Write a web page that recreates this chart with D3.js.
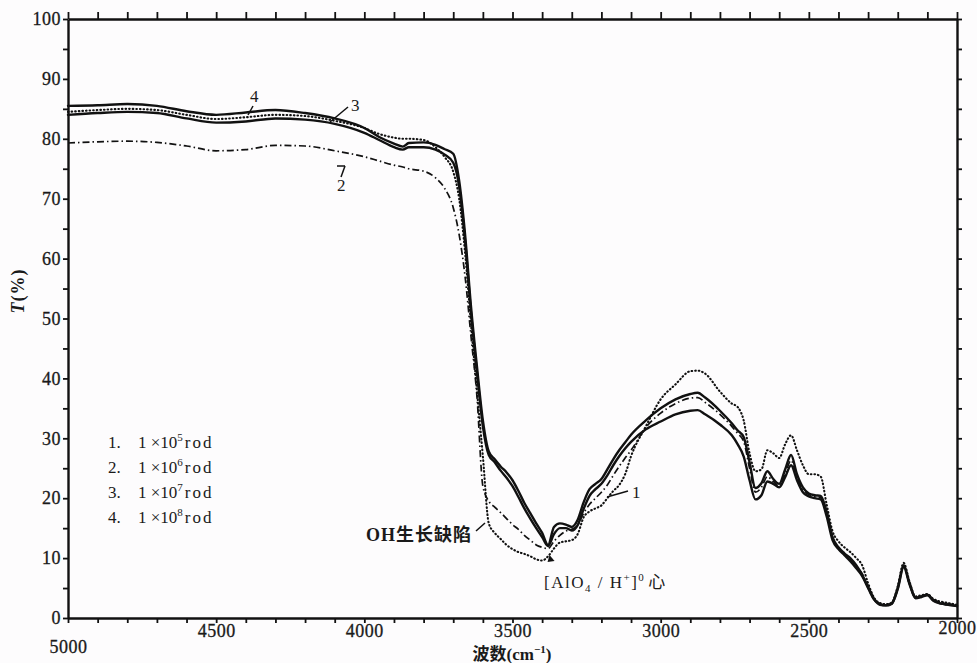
<!DOCTYPE html>
<html>
<head>
<meta charset="utf-8">
<script src="https://cdn.jsdelivr.net/npm/d3@7.9.0/dist/d3.min.js"></script>
<style>
  body { margin: 0; background: #fdfcfd; }
  svg { display: block; }
  text { font-family: "Liberation Serif", "Times New Roman", "Noto Sans CJK SC", serif; fill: #1a1a1a; }
</style>
</head>
<body>
<div id="chart"></div>
<script>
// wavenumber grid (cm^-1), shared by all four spectra
const wavenumbers = [5000, 4900, 4800, 4700, 4600, 4500, 4400, 4300, 4200, 4100, 4000, 3950, 3900, 3870, 3850, 3800, 3760, 3730, 3700, 3680, 3660, 3640, 3620, 3600, 3580, 3560, 3540, 3520, 3500, 3480, 3460, 3440, 3420, 3400, 3380, 3360, 3340, 3320, 3300, 3280, 3260, 3240, 3220, 3200, 3180, 3160, 3140, 3120, 3100, 3050, 3000, 2950, 2900, 2875, 2850, 2800, 2760, 2740, 2720, 2700, 2680, 2660, 2640, 2620, 2600, 2580, 2560, 2540, 2520, 2500, 2480, 2460, 2440, 2420, 2400, 2380, 2360, 2340, 2320, 2300, 2280, 2260, 2240, 2220, 2200, 2180, 2160, 2140, 2120, 2100, 2080, 2060, 2040, 2020, 2000];

// T(%) for each dose
const dose1e5 = [84.5, 84.8, 85.0, 84.8, 84.0, 83.3, 83.6, 84.0, 83.8, 83.0, 81.8, 80.8, 80.2, 80.0, 80.0, 79.8, 78.6, 77.0, 74.5, 70, 61, 49, 38, 27, 15.8, 14.2, 13.2, 12.2, 11.5, 11.0, 10.7, 10.3, 9.8, 9.6, 10.3, 11.6, 12.6, 12.8, 13.0, 14.0, 16.8, 17.8, 18.3, 18.8, 20.0, 21.2, 22.2, 24.0, 27.0, 32.0, 36.5, 39.0, 41.2, 41.3, 40.8, 37.8, 35.8, 35.2, 33.0, 27.5, 24.5, 24.8, 28.0, 27.5, 26.7, 29.0, 30.5, 28.0, 25.5, 24.0, 24.0, 23.6, 19.0, 14.5, 12.8, 11.8, 11.0, 10.0, 8.8, 5.8, 3.4, 2.5, 2.3, 2.6, 5.3, 9.2, 6.0, 3.6, 3.8, 4.0, 3.2, 2.8, 2.6, 2.4, 2.2];
const dose1e6 = [79.3, 79.5, 79.6, 79.4, 78.8, 78.0, 78.2, 78.9, 78.8, 78.0, 77.0, 76.3, 75.6, 75.3, 75.0, 74.6, 73.5, 71.8, 68.5, 64, 57, 47, 37, 22, 19.5, 18.5, 17.6, 16.6, 15.6, 14.8, 13.8, 13.0, 12.2, 11.8, 11.6, 12.8, 13.8, 14.5, 14.8, 15.5, 17.5, 19.0, 20.0, 21.0, 22.2, 23.8, 25.3, 26.7, 28.0, 31.8, 34.2, 35.8, 36.7, 36.8, 36.0, 34.0, 32.0, 30.8, 29.5, 25.0, 21.0, 21.8, 23.6, 22.8, 22.0, 24.0, 26.3, 23.5, 21.5, 20.6, 20.3, 20.1, 17.4, 13.3, 11.6, 10.6, 9.8, 8.6, 7.4, 5.0, 3.1, 2.3, 2.2, 2.6, 5.0, 8.6, 5.6, 3.4, 3.6, 3.9, 3.1, 2.7, 2.5, 2.3, 2.1];
const dose1e7 = [84.0, 84.3, 84.5, 84.3, 83.4, 82.7, 82.9, 83.4, 83.2, 82.5, 81.0, 79.8, 78.6, 78.2, 78.6, 78.6, 78.2, 77.4, 76.0, 72, 63, 51, 41, 32, 27.2, 26.0, 24.6, 23.4, 22.0, 20.2, 18.3, 16.6, 15.0, 13.5, 12.0, 14.0, 15.0, 15.0, 14.6, 15.5, 18.2, 20.4, 21.5, 22.4, 23.8, 25.5, 27.0, 28.3, 29.4, 31.5, 32.8, 34.0, 34.6, 34.7, 34.0, 32.3, 30.5, 29.0, 27.0, 23.0, 19.8, 20.5, 22.8, 22.4, 21.8, 23.5, 25.5, 23.0, 21.0, 20.3, 20.0, 19.8, 17.0, 13.0, 11.5, 10.5, 9.5, 8.3, 7.0, 5.0, 3.1, 2.2, 2.1, 2.4, 4.8, 8.5, 5.6, 3.3, 3.5, 3.8, 2.9, 2.5, 2.3, 2.1, 2.0];
const dose1e8 = [85.5, 85.6, 85.8, 85.5, 84.6, 84.0, 84.4, 84.8, 84.3, 83.4, 81.8, 80.3, 79.2, 78.7, 79.3, 79.4, 79.0, 78.3, 77.5, 73, 64, 52, 42, 33, 27.8, 26.5, 25.3, 24.3, 23.0, 21.2, 19.2, 17.5, 15.8, 14.2, 12.2, 15.2, 15.8, 15.6, 15.2, 16.4, 19.3, 21.5, 22.4, 23.2, 24.8, 26.5, 28.0, 29.3, 30.6, 33.0, 35.0, 36.5, 37.4, 37.6, 36.8, 34.6, 32.5, 31.3, 30.2, 26.0, 21.7, 22.5, 24.5, 23.2, 22.4, 24.8, 27.2, 24.0, 21.8, 20.8, 20.5, 20.4, 17.8, 13.5, 11.8, 10.8, 10.0, 8.8, 7.2, 5.2, 3.2, 2.3, 2.1, 2.4, 5.0, 8.8, 5.8, 3.4, 3.6, 3.9, 3.0, 2.5, 2.3, 2.2, 2.0];

const legendExponents = [5, 6, 7, 8];
const xTickLabels = [5000, 4500, 4000, 3500, 3000, 2500, 2000];
const yTickLabels = [0, 10, 20, 30, 40, 50, 60, 70, 80, 90, 100];

const width = 977, height = 663;
const plot = { left: 68, right: 957, top: 19, bottom: 618 };
const serif = '"Liberation Serif", "Times New Roman", "Noto Sans CJK SC", serif';

const svg = d3.select('#chart').append('svg')
  .attr('width', width)
  .attr('height', height)
  .attr('font-family', serif);

const x = d3.scaleLinear().domain([5000, 2000]).range([plot.left, plot.right]);
const y = d3.scaleLinear().domain([0, 100]).range([plot.bottom, plot.top]);

// ------- axes -------
const xMinor = d3.range(2000, 5001, 100);
const yMinor = d3.range(0, 101, 5);

function styleAxis(g) {
  g.attr('font-family', serif).attr('font-size', 18);
  g.select('.domain').attr('stroke', '#111').attr('stroke-width', 2.4);
  g.selectAll('.tick line').attr('stroke', '#111').attr('stroke-width', 1.8);
  g.selectAll('.tick text')
    .style('font-family', serif)
    .style('font-size', '18px')
    .style('letter-spacing', '0.5px')
    .attr('fill', '#1a1a1a')
    .attr('stroke', '#1a1a1a')
    .attr('stroke-width', 0.3);
}

svg.append('g')
  .attr('transform', `translate(0,${plot.bottom})`)
  .call(d3.axisBottom(x).tickValues(xMinor).tickSize(5).tickSizeOuter(0)
    .tickFormat(d => xTickLabels.includes(d) ? d : ''))
  .call(styleAxis)
  .call(g => g.selectAll('.tick text')
    .attr('dy', d => d === 5000 ? '1.5em' : d === 2000 ? '0.45em' : '0.6em'));

svg.append('g')
  .attr('transform', `translate(0,${plot.top})`)
  .call(d3.axisTop(x).tickValues(xMinor).tickSize(7).tickSizeOuter(0).tickFormat(''))
  .call(styleAxis);

svg.append('g')
  .attr('transform', `translate(${plot.left},0)`)
  .call(d3.axisLeft(y).tickValues(yMinor).tickSize(5).tickPadding(2).tickSizeOuter(0)
    .tickFormat(d => yTickLabels.includes(d) ? d : ''))
  .call(styleAxis);

svg.append('g')
  .attr('transform', `translate(${plot.right},0)`)
  .call(d3.axisRight(y).tickValues(yMinor).tickSize(5).tickSizeOuter(0).tickFormat(''))
  .call(styleAxis);

// ------- spectra -------
const series = [
  { values: dose1e5, dash: '0.6,3', width: 2.1, cap: 'round' },
  { values: dose1e6, dash: '7,3,1.5,3', width: 1.7, cap: 'butt' },
  { values: dose1e7, dash: null, width: 2.4, cap: 'round' },
  { values: dose1e8, dash: null, width: 2.4, cap: 'round' },
];

const line = d3.line()
  .x(d => x(d[0]))
  .y(d => y(d[1]))
  .curve(d3.curveMonotoneX);

svg.append('g').attr('class', 'spectra')
  .selectAll('path')
  .data(series)
  .join('path')
  .attr('d', s => line(wavenumbers.map((w, i) => [w, s.values[i]])))
  .attr('fill', 'none')
  .attr('stroke', '#111')
  .attr('stroke-width', s => s.width)
  .attr('stroke-dasharray', s => s.dash)
  .attr('stroke-linecap', s => s.cap)
  .attr('stroke-linejoin', 'round');

// ------- axis titles -------
svg.append('text')
  .attr('transform', 'translate(24,291) rotate(-90)')
  .attr('text-anchor', 'middle')
  .style('font-size', '18px')
  .style('font-weight', 'bold')
  .style('letter-spacing', '1px')
  .call(t => {
    t.append('tspan').style('font-style', 'italic').text('T');
    t.append('tspan').text('(%)');
  });

svg.append('text')
  .attr('x', 512).attr('y', 660)
  .attr('text-anchor', 'middle')
  .style('font-size', '17px')
  .style('font-weight', 'bold')
  .call(t => {
    t.append('tspan').text('波数(cm');
    t.append('tspan').attr('dy', -7).style('font-size', '11px').text('−1');
    t.append('tspan').attr('dy', 7).text(')');
  });

// ------- legend -------
const legend = svg.append('g').attr('transform', 'translate(108,448)');
legendExponents.forEach((e, i) => {
  const row = legend.append('g').attr('transform', `translate(0,${i * 25})`);
  row.append('text').style('font-size', '17px').text(`${i + 1}.`);
  const t = row.append('text').attr('x', 30).style('font-size', '17px');
  t.append('tspan').text('1 ×10');
  t.append('tspan').attr('dy', -7).style('font-size', '11px').text(e);
  t.append('tspan').attr('dy', 7).attr('dx', 2).style('letter-spacing', '2px').text('rod');
});

// ------- annotations -------
const ann = svg.append('g').attr('class', 'annotations');
const leader = (x1, y1, x2, y2) => ann.append('line')
  .attr('x1', x1).attr('y1', y1).attr('x2', x2).attr('y2', y2)
  .attr('stroke', '#111').attr('stroke-width', 1.5);

ann.append('text').attr('x', 366).attr('y', 541)
  .style('font-size', '18px').style('font-weight', 'bold').style('letter-spacing', '1px')
  .text('OH生长缺陷');
leader(476, 531, 485, 523);

ann.append('text').attr('x', 544).attr('y', 588)
  .style('font-size', '17px').style('letter-spacing', '1.5px')
  .call(t => {
    t.append('tspan').text('[AlO');
    t.append('tspan').attr('dy', 4).style('font-size', '11px').text('4');
    t.append('tspan').attr('dy', -4).text(' / H');
    t.append('tspan').attr('dy', -7).style('font-size', '11px').text('+');
    t.append('tspan').attr('dy', 7).text(']');
    t.append('tspan').attr('dy', -7).style('font-size', '11px').text('0');
    t.append('tspan').attr('dy', 7).attr('dx', 3).text('心');
  });
ann.append('path')
  .attr('d', `M${x(3375)},${y(10.5)} l5,6 l-7,1 z`)
  .attr('fill', '#111');

ann.append('text').attr('x', 632).attr('y', 498).style('font-size', '17px').text('1');
leader(628, 491, 607, 497);

ann.append('text').attr('x', 337).attr('y', 191).style('font-size', '17px').text('2');
leader(337, 166, 345, 166);
leader(345, 166, 341, 177);

ann.append('text').attr('x', 351).attr('y', 111).style('font-size', '17px').text('3');
leader(348, 107, 330, 122);

ann.append('text').attr('x', 250).attr('y', 102).style('font-size', '17px').text('4');
leader(253, 106, 248, 115);
</script>
</body>
</html>
